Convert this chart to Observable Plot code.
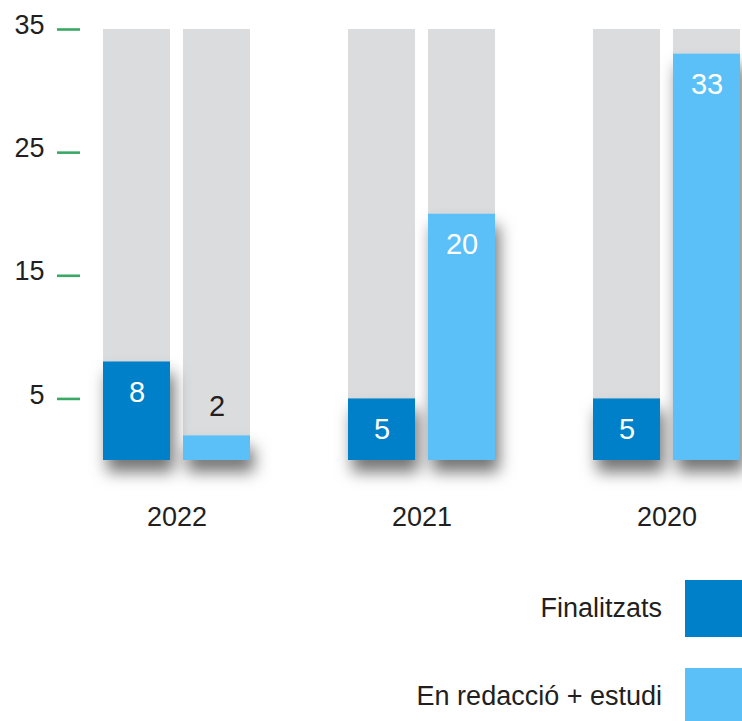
<!DOCTYPE html>
<html>
<head>
<meta charset="utf-8">
<script src="https://cdn.jsdelivr.net/npm/d3@7"></script>
<script src="https://cdn.jsdelivr.net/npm/@observablehq/plot@0.6"></script>
<style>
  body { margin: 0; background: #fff; font-family: "Liberation Sans", Arial, Helvetica, sans-serif; color: #231f20; }
  #wrap { width: 742px; }
  #legend { position: relative; width: 742px; height: 161px; }
  .item { position: absolute; right: 0; display: flex; align-items: center; gap: 23px; font-size: 27px; }
  .swatch { width: 57px; height: 57px; }
</style>
</head>
<body>
<div id="wrap">
  <div id="chart"></div>
  <div id="legend"></div>
</div>
<script>
const years = ["2022", "2021", "2020"];
const seriesNames = ["Finalitzats", "En redacció + estudi"];
const finalitzats = [8, 5, 5];
const enRedaccio = [2, 20, 33];
const maxValue = 35;
const yTicks = [5, 15, 25, 35];
const seriesColors = ["#0080c8", "#5bc0f8"];

const data = years.flatMap((year, i) => [
  {year, series: seriesNames[0], value: finalitzats[i]},
  {year, series: seriesNames[1], value: enRedaccio[i]}
]);

const plot = Plot.plot({
  width: 742,
  height: 560,
  marginLeft: 102,
  marginRight: 1,
  marginTop: 29,
  marginBottom: 100,
  style: {fontFamily: '"Liberation Sans", Arial, Helvetica, sans-serif', fontSize: "27px", color: "#231f20", background: "white", overflow: "visible"},
  fx: {domain: years, paddingInner: 0.4, paddingOuter: 0, axis: "bottom", tickSize: 0, tickPadding: 46, label: null},
  x: {domain: seriesNames, paddingInner: 0.1625, paddingOuter: 0, axis: null},
  y: {domain: [0, maxValue], axis: null},
  color: {domain: seriesNames, range: seriesColors},
  marks: [
    Plot.barY(data, {fx: "year", x: "series", y: () => maxValue, fill: "#dbdcde"}),
    Plot.barY(data, {fx: "year", x: "series", y: "value", fill: "series", className: "valuebars"}),
    Plot.text(data, {fx: "year", x: "series", y: "value", text: d => String(d.value), filter: d => d.value >= 4, dy: 31, fill: "white", fontSize: 29}),
    Plot.text(data, {fx: "year", x: "series", y: "value", text: d => String(d.value), filter: d => d.value < 4, dy: -29, fill: "#231f20", fontSize: 29}),
    Plot.axisY({ticks: yTicks, tickSize: 23, dx: -23, stroke: "#3aa865", strokeWidth: 2.6, fill: "none", label: null}),
    Plot.axisY({ticks: yTicks, tickSize: 0, tickPadding: 59, dy: -4, fill: "#231f20", label: null})
  ]
});

// drop shadow for the coloured bars
const svg = d3.select(plot);
const defs = svg.insert("defs", ":first-child");
const f = defs.append("filter").attr("id", "barShadow").attr("x", "-40%").attr("y", "-20%").attr("width", "190%").attr("height", "160%");
f.append("feDropShadow").attr("dx", 4).attr("dy", 12).attr("stdDeviation", 8).attr("flood-color", "#000").attr("flood-opacity", 0.55);
svg.selectAll(".valuebars").attr("filter", "url(#barShadow)");

document.getElementById("chart").appendChild(plot);

const legend = d3.select("#legend");
const tops = [20, 108];
seriesNames.forEach((name, i) => {
  const item = legend.append("div").attr("class", "item").style("top", tops[i] + "px");
  item.append("span").text(name);
  item.append("div").attr("class", "swatch").style("background", seriesColors[i]);
});
</script>
</body>
</html>
